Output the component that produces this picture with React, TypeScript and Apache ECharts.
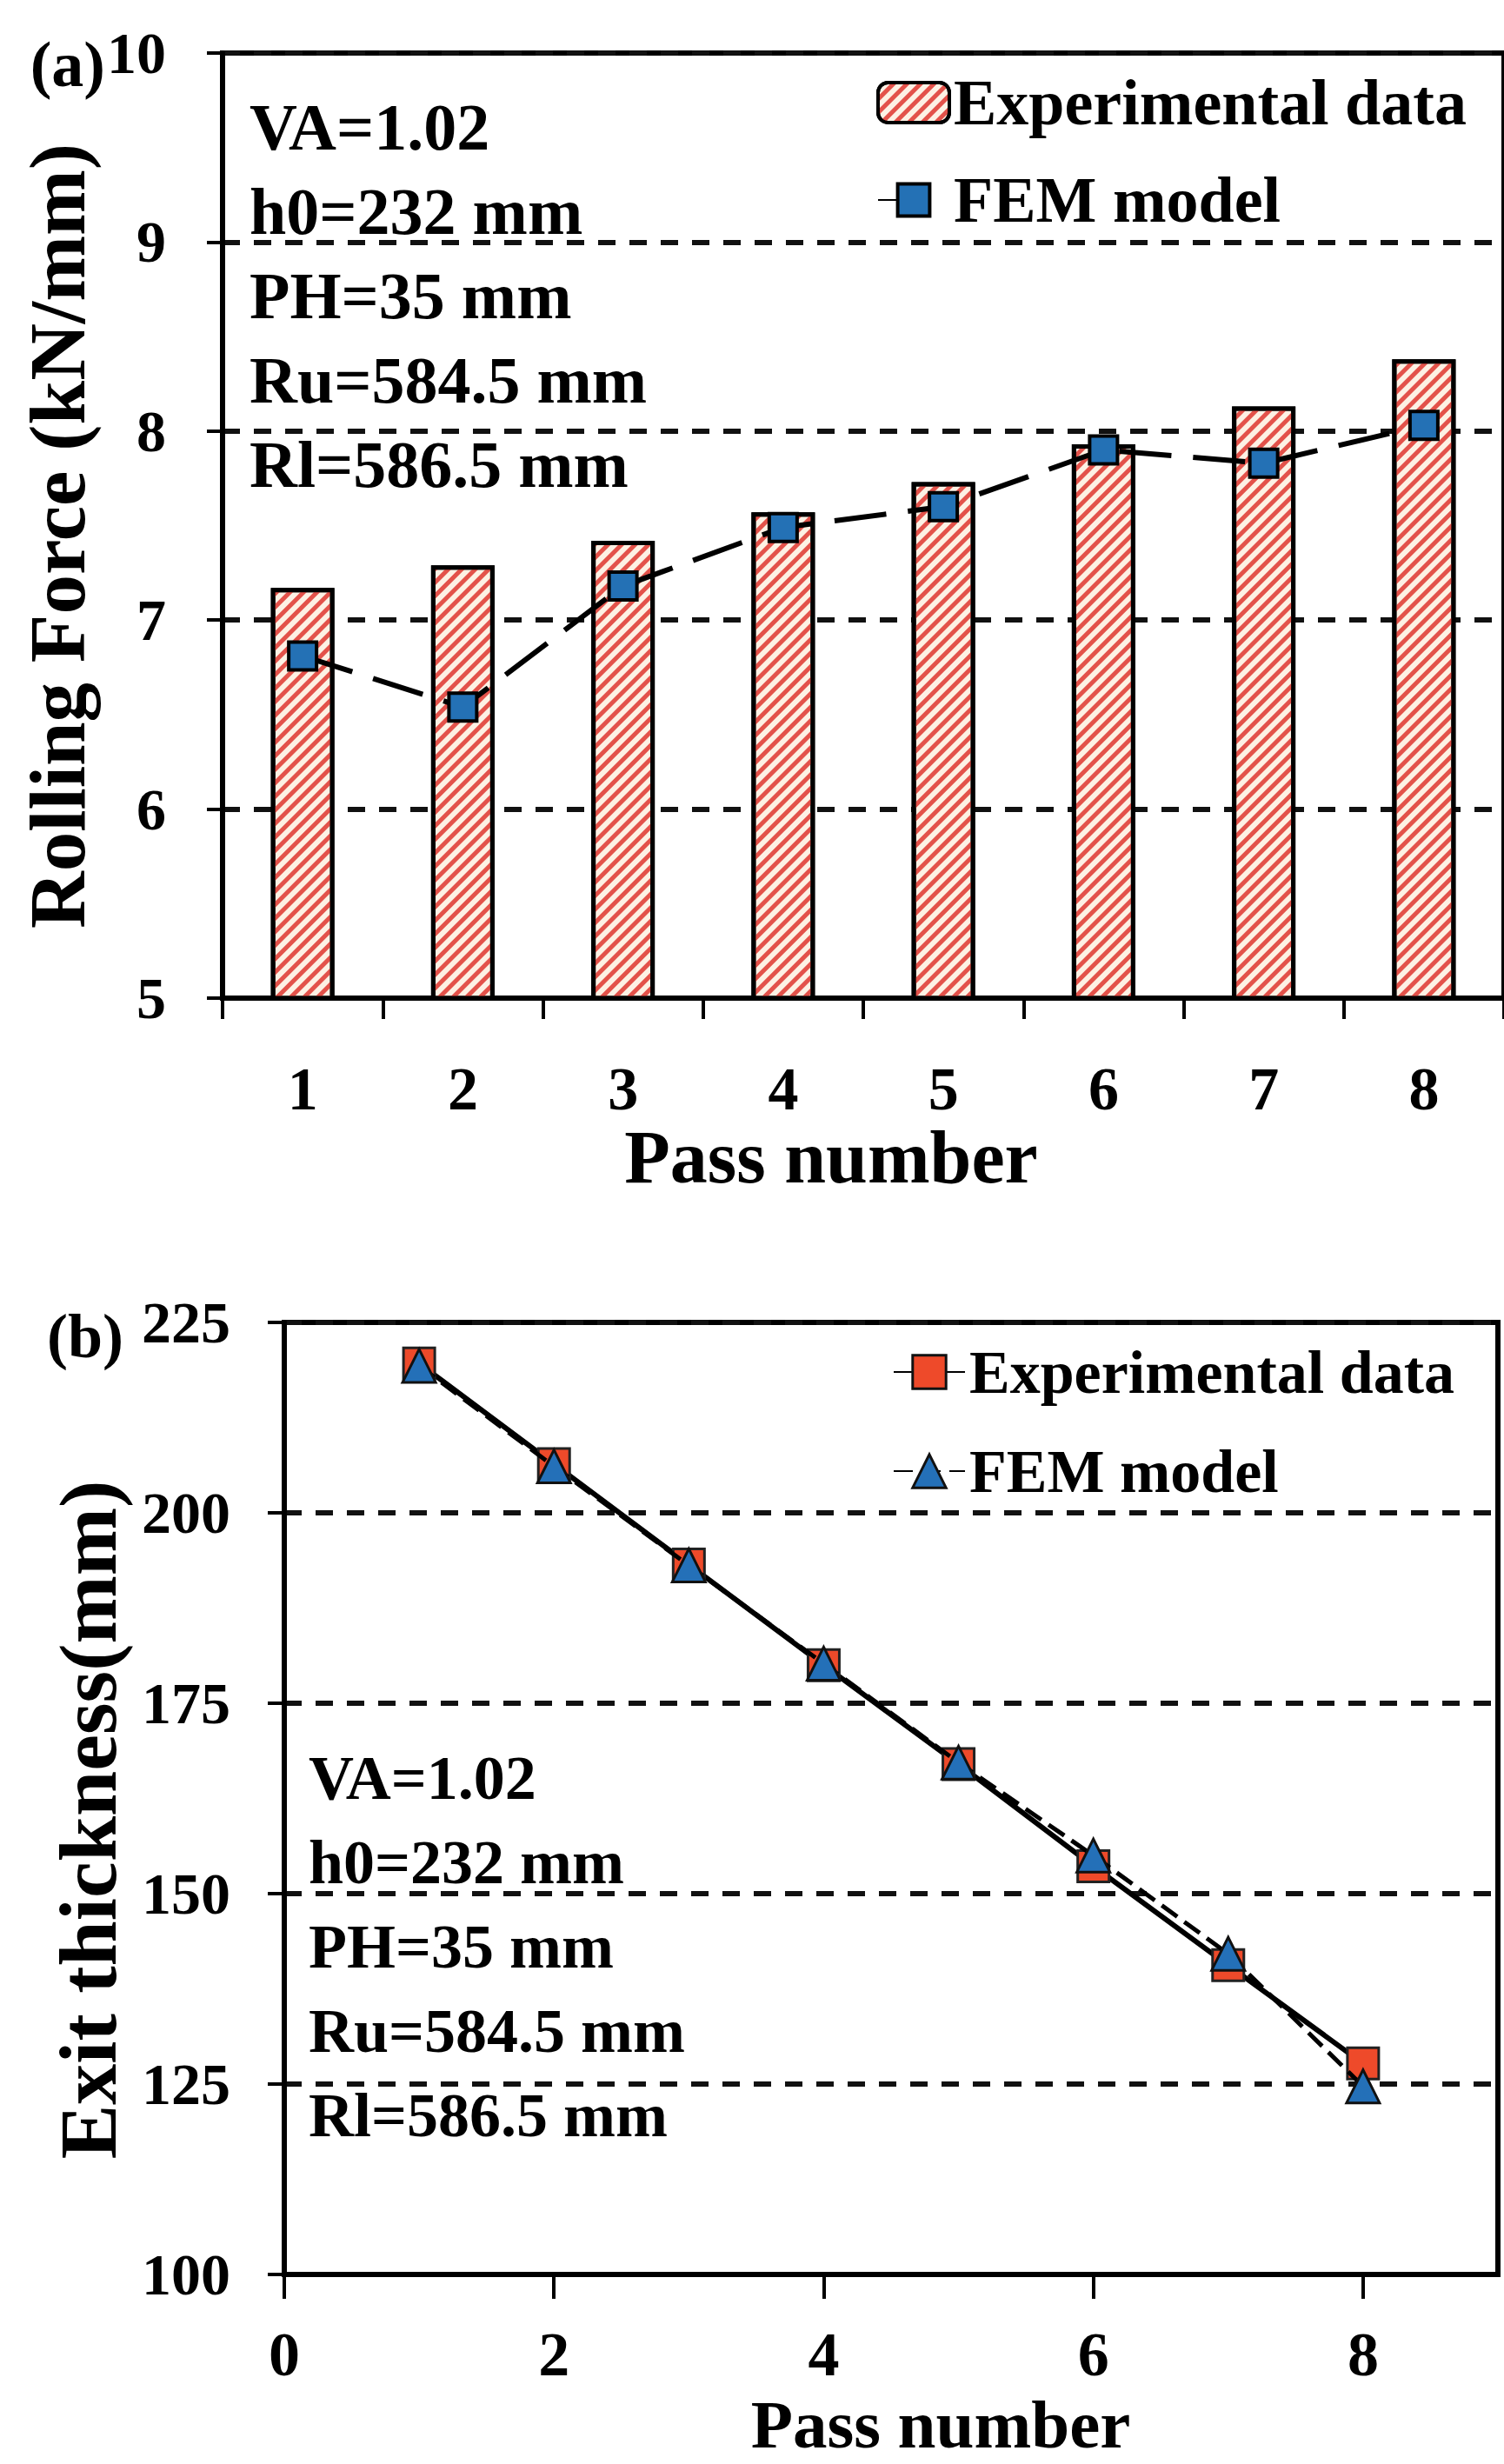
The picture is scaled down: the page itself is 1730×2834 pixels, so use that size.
import React, { useEffect, useRef } from "react";
import * as echarts from "echarts";

// ---------- data ----------
const passCategories = ["1", "2", "3", "4", "5", "6", "7", "8"];
const forceExperimental = [7.17, 7.29, 7.42, 7.57, 7.73, 7.93, 8.13, 8.38];
const forceFEM = [6.81, 6.54, 7.18, 7.49, 7.6, 7.9, 7.83, 8.03];

const passNumbers = [1, 2, 3, 4, 5, 6, 7, 8];
const thicknessExperimental = [219.6, 206.4, 193.2, 180.0, 167.0, 153.6, 140.6, 127.7];
const thicknessFEM = [219.3, 206.1, 193.1, 180.2, 167.2, 155.0, 142.1, 124.7];
const xTicksB = [0, 2, 4, 6, 8];

const annotationLines = ["VA=1.02", "h0=232 mm", "PH=35 mm", "Ru=584.5 mm", "Rl=586.5 mm"];
const legendNamesA = ["Experimental data", "FEM model"];
const legendNamesB = ["Experimental data (b)", "FEM model (b)"];

const FONT = "'Liberation Serif', 'Times New Roman', serif";

export default function App() {
  const ref = useRef<HTMLDivElement>(null);

  useEffect(() => {
    document.body.style.margin = "0";
    if (!ref.current) return;
    const chart = echarts.init(ref.current, undefined, { renderer: "svg" });

    const txt = (size: number) => ({
      fontSize: size,
      fontFamily: FONT,
      fontWeight: "bold" as const,
      color: "#000",
    });

    const annA = annotationLines.map((t, i) => ({
      type: "text",
      x: 287,
      y: 146 + i * 97,
      style: { text: t, align: "left", verticalAlign: "middle", fontSize: 76, fontFamily: FONT, fontWeight: "bold", fill: "#000" },
    }));
    const annB = annotationLines.map((t, i) => ({
      type: "text",
      x: 355,
      y: 2045 + i * 97,
      style: { text: t, align: "left", verticalAlign: "middle", fontSize: 72, fontFamily: FONT, fontWeight: "bold", fill: "#000" },
    }));

    const gridDash = { color: "#111", width: 6, type: [20, 16] };

    const option: any = {
      animation: false,
      backgroundColor: "#fff",
      textStyle: { fontFamily: FONT, fontWeight: "bold", color: "#000" },
      grid: [
        { left: 256, top: 61, width: 1489, height: 1087, show: true, borderColor: "#000", borderWidth: 6 },
        { left: 327, top: 1521, width: 1396, height: 1095, show: true, borderColor: "#000", borderWidth: 6 },
      ],
      xAxis: [
        {
          gridIndex: 0,
          type: "category",
          data: passCategories,
          boundaryGap: true,
          axisLine: { lineStyle: { color: "#000", width: 6 } },
          axisTick: { show: true, length: 24, lineStyle: { color: "#000", width: 4 } },
          axisLabel: { margin: 69, ...txt(70) },
          splitLine: { show: false },
          name: "Pass number",
          nameLocation: "middle",
          nameGap: 130,
          nameTextStyle: { ...txt(86), padding: [0, 74, 0, 0] },
        },
        {
          gridIndex: 1,
          type: "value",
          min: 0,
          max: 9,
          interval: 2,
          axisLine: { lineStyle: { color: "#000", width: 6 } },
          axisTick: { show: true, length: 28, customValues: xTicksB, lineStyle: { color: "#000", width: 4 } },
          axisLabel: { margin: 56, customValues: xTicksB, ...txt(72) },
          splitLine: { show: false },
          name: "Pass number",
          nameLocation: "middle",
          nameGap: 133,
          nameTextStyle: { ...txt(79), padding: [0, 0, 0, 114] },
        },
      ],
      yAxis: [
        {
          gridIndex: 0,
          type: "value",
          min: 5,
          max: 10,
          interval: 1,
          axisLine: { show: true, lineStyle: { color: "#000", width: 6 } },
          axisTick: { show: true, length: 18, lineStyle: { color: "#000", width: 4 } },
          axisLabel: { margin: 65, ...txt(68) },
          splitLine: { show: true, lineStyle: gridDash },
          name: "Rolling Force (kN/mm)",
          nameLocation: "middle",
          nameGap: 133,
          nameTextStyle: { ...txt(91), padding: [0, 24, 0, 0] },
        },
        {
          gridIndex: 1,
          type: "value",
          min: 100,
          max: 225,
          interval: 25,
          axisLine: { show: true, lineStyle: { color: "#000", width: 6 } },
          axisTick: { show: true, length: 19, lineStyle: { color: "#000", width: 4 } },
          axisLabel: { margin: 62, ...txt(68) },
          splitLine: { show: true, lineStyle: gridDash },
          name: "Exit thickness(mm)",
          nameLocation: "middle",
          nameGap: 179,
          nameTextStyle: { ...txt(94), padding: [0, 49, 0, 0] },
        },
      ],
      legend: [
        {
          data: legendNamesA,
          orient: "vertical",
          left: 1008,
          top: 78,
          itemWidth: 82,
          itemHeight: 46,
          itemGap: 32,
          padding: 0,
          selectedMode: false,
          textStyle: { ...txt(74), lineHeight: 80 },
          itemStyle: { borderColor: "#000", borderWidth: 4 },
        },
        {
          data: legendNamesB,
          formatter: (n: string) => n.replace(" (b)", ""),
          orient: "vertical",
          left: 1027,
          top: 1538,
          itemWidth: 82,
          itemHeight: 48,
          itemGap: 34,
          padding: 0,
          selectedMode: false,
          textStyle: { ...txt(70), lineHeight: 80 },
          itemStyle: { borderColor: "#111", borderWidth: 3 },
        },
      ],
      graphic: [
        {
          type: "text",
          x: 121,
          y: 74,
          style: { text: "(a)", align: "right", verticalAlign: "middle", fontSize: 74, fontFamily: FONT, fontWeight: "bold", fill: "#000" },
        },
        {
          type: "text",
          x: 142,
          y: 1537,
          style: { text: "(b)", align: "right", verticalAlign: "middle", fontSize: 72, fontFamily: FONT, fontWeight: "bold", fill: "#000" },
        },
        ...annA,
        ...annB,
      ],
      series: [
        {
          name: legendNamesA[0],
          type: "bar",
          xAxisIndex: 0,
          yAxisIndex: 0,
          data: forceExperimental,
          barWidth: 73,
          itemStyle: {
            color: "#FDF1E4",
            borderColor: "#000",
            borderWidth: 5,
            decal: {
              symbol: "rect",
              symbolSize: 1,
              dashArrayX: [1, 0],
              dashArrayY: [5, 6],
              rotation: -Math.PI / 4,
              color: "#E3524A",
            },
          },
        },
        {
          name: legendNamesA[1],
          type: "line",
          xAxisIndex: 0,
          yAxisIndex: 0,
          data: forceFEM,
          symbol: "rect",
          symbolSize: 32,
          itemStyle: { color: "#2471B5", borderColor: "#000", borderWidth: 4 },
          lineStyle: { color: "#000", width: 6, type: [60, 25] },
          z: 3,
        },
        {
          name: legendNamesB[0],
          type: "line",
          xAxisIndex: 1,
          yAxisIndex: 1,
          data: passNumbers.map((p, i) => [p, thicknessExperimental[i]]),
          symbol: "rect",
          symbolSize: 36,
          itemStyle: { color: "#EE4A2A", borderColor: "#222", borderWidth: 3 },
          lineStyle: { color: "#000", width: 6 },
          z: 3,
        },
        {
          name: legendNamesB[1],
          type: "line",
          xAxisIndex: 1,
          yAxisIndex: 1,
          data: passNumbers.map((p, i) => [p, thicknessFEM[i]]),
          symbol: "triangle",
          symbolSize: 38,
          itemStyle: { color: "#2470B8", borderColor: "#111", borderWidth: 3 },
          lineStyle: { color: "#000", width: 5, type: [22, 10] },
          z: 4,
        },
      ],
    };

    chart.setOption(option);
    return () => chart.dispose();
  }, []);

  return <div ref={ref} style={{ width: 1730, height: 2834 }} />;
}
